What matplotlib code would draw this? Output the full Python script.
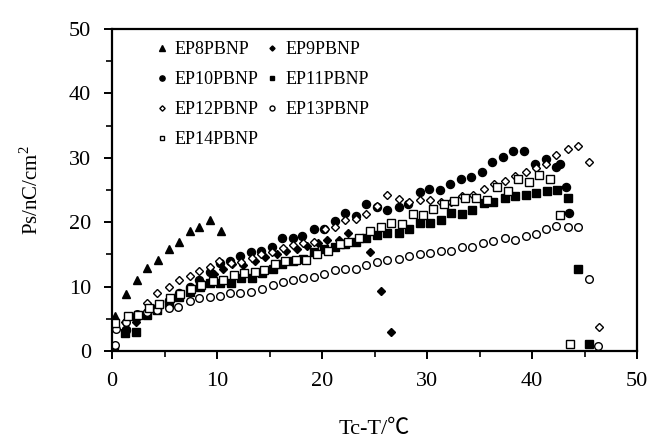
import matplotlib
matplotlib.use("Agg")
import matplotlib.pyplot as plt
from matplotlib.ticker import MultipleLocator

# ---- data ----
ep8_x = [0.3, 1.3, 2.35, 3.3, 4.35, 5.4, 6.4, 7.4, 8.3, 9.3, 10.35]
ep8_y = [5.5, 8.8, 11.1, 12.9, 14.2, 15.8, 17.0, 18.6, 19.2, 20.4, 18.7]

ep9_x = [0.2, 1.3, 2.3, 3.3, 4.3, 5.4, 6.4, 7.4, 8.4, 9.7, 10.6, 11.4, 12.5, 13.6, 14.6,
         15.7, 16.6, 17.6, 18.6, 19.6, 20.5, 21.6, 22.5, 24.6, 25.6, 26.6]
ep9_y = [0.1, 3.5, 4.5, 5.8, 7.0, 8.0, 9.0, 10.0, 10.8, 11.9, 12.8, 13.5, 13.3, 14.0, 14.6,
         15.0, 15.5, 15.8, 16.3, 16.8, 17.2, 17.3, 18.3, 15.4, 9.3, 2.9]

ep10_x = [0.2, 1.3, 2.3, 3.3, 4.3, 5.4, 6.4, 7.4, 8.3, 9.3, 10.3, 11.2, 12.2, 13.2, 14.2,
          15.2, 16.2, 17.2, 18.1, 19.2, 20.2, 21.2, 22.2, 23.2, 24.2, 25.2, 26.2, 27.3,
          28.2, 29.3, 30.2, 31.2, 32.2, 33.2, 34.2, 35.2, 36.2, 37.2, 38.2, 39.2, 40.3,
          41.3, 42.3, 42.7, 43.2, 43.5]
ep10_y = [0.4, 3.2, 5.2, 5.9, 6.5, 7.7, 9.0, 10.0, 11.0, 12.3, 13.6, 13.95, 14.7, 15.4, 15.6,
          16.2, 17.5, 17.6, 17.9, 19.0, 19.0, 20.2, 21.4, 21.0, 22.8, 22.4, 21.9, 22.3,
          22.8, 24.7, 25.1, 25.0, 25.9, 26.7, 27.0, 27.8, 29.3, 30.2, 31.0, 31.0, 29.0,
          29.8, 28.6, 29.0, 25.4, 21.4]

ep11_x = [0.13, 1.25, 2.3, 3.3, 4.3, 5.4, 6.4, 7.4, 8.4, 9.3, 10.3, 11.3, 12.3, 13.3, 14.3,
          15.3, 16.2, 17.2, 18.2, 19.2, 20.2, 21.2, 22.2, 23.2, 24.2, 25.2, 26.2, 27.3,
          28.3, 29.3, 30.3, 31.3, 32.3, 33.3, 34.3, 35.4, 36.3, 37.4, 38.4, 39.4, 40.4,
          41.4, 42.4, 43.4, 44.4, 45.4]
ep11_y = [0.2, 2.85, 3.0, 5.6, 6.4, 7.4, 8.4, 9.2, 9.9, 10.5, 10.6, 10.5, 11.3, 11.3, 12.1,
          12.8, 13.5, 13.9, 14.3, 15.4, 15.8, 16.2, 16.6, 17.0, 17.6, 18.0, 18.4, 18.4,
          19.0, 19.8, 19.9, 20.3, 21.4, 21.3, 21.9, 23.0, 23.2, 23.8, 24.0, 24.2, 24.5,
          24.8, 25.0, 23.7, 12.7, 1.1]

ep12_x = [0.3, 1.25, 2.35, 3.3, 4.3, 5.4, 6.4, 7.4, 8.3, 9.3, 10.2, 11.3, 12.3, 13.3, 14.2,
          15.2, 16.3, 17.2, 18.2, 19.2, 20.3, 21.2, 22.2, 23.2, 24.2, 25.2, 26.2, 27.3,
          28.3, 29.3, 30.3, 31.3, 32.3, 33.3, 34.4, 35.4, 36.4, 37.4, 38.4, 39.4, 40.4,
          41.3, 42.3, 43.4, 44.4, 45.4, 46.4]
ep12_y = [3.8, 4.45, 5.5, 7.4, 9.0, 10.0, 11.1, 11.7, 12.4, 13.0, 13.9, 13.6, 13.8, 14.5, 15.0,
          15.4, 16.0, 16.4, 16.8, 16.9, 18.9, 19.2, 20.4, 20.5, 21.3, 22.5, 24.3, 23.6,
          23.2, 23.5, 23.5, 23.2, 23.2, 24.0, 24.2, 25.1, 26.0, 26.4, 27.2, 27.8, 28.4,
          29.1, 30.4, 31.4, 31.9, 29.3, 3.8]

ep13_x = [0.3, 0.4, 1.3, 2.35, 3.3, 4.3, 5.4, 6.3, 7.4, 8.3, 9.3, 10.3, 11.2, 12.2, 13.2,
          14.3, 15.3, 16.3, 17.2, 18.2, 19.2, 20.2, 21.2, 22.2, 23.2, 24.2, 25.2, 26.2,
          27.3, 28.3, 29.3, 30.3, 31.3, 32.3, 33.3, 34.3, 35.3, 36.3, 37.4, 38.4, 39.4,
          40.4, 41.3, 42.3, 43.4, 44.4, 45.4, 46.3]
ep13_y = [1.0, 3.4, 4.5, 5.8, 6.1, 6.4, 6.6, 6.9, 7.8, 8.3, 8.4, 8.6, 8.95, 8.95, 9.1,
          9.7, 10.3, 10.7, 11.0, 11.3, 11.5, 11.9, 12.6, 12.7, 12.7, 13.35, 13.8, 14.2,
          14.3, 14.7, 15.1, 15.2, 15.5, 15.5, 16.2, 16.2, 16.8, 17.1, 17.5, 17.3, 17.8,
          18.1, 18.9, 19.4, 19.2, 19.2, 11.2, 0.7]

ep14_x = [0.3, 1.5, 2.5, 3.5, 4.5, 5.5, 6.5, 7.5, 8.5, 9.6, 10.6, 11.6, 12.6, 13.6, 14.5,
          15.5, 16.5, 17.5, 18.5, 19.5, 20.6, 21.7, 22.5, 23.5, 24.6, 25.6, 26.6, 27.6,
          28.7, 29.6, 30.6, 31.6, 32.6, 33.6, 34.7, 35.7, 36.7, 37.7, 38.7, 39.7, 40.7,
          41.7, 42.7, 43.6]
ep14_y = [4.3, 5.5, 5.6, 6.6, 7.3, 8.2, 8.8, 9.6, 10.3, 10.9, 11.1, 11.8, 12.1, 12.3, 12.6,
          13.5, 14.0, 14.2, 14.2, 15.0, 15.6, 16.6, 17.0, 17.6, 18.6, 19.3, 19.9, 19.7,
          21.2, 21.1, 22.0, 22.9, 23.3, 23.7, 23.8, 23.4, 25.5, 24.9, 26.7, 26.3, 27.3,
          26.7, 21.1, 1.1]

labels = ["EP8PBNP", "EP9PBNP", "EP10PBNP", "EP11PBNP", "EP12PBNP", "EP13PBNP", "EP14PBNP"]
x_ticks = [0, 10, 20, 30, 40, 50]
y_ticks = [0, 10, 20, 30, 40, 50]

# ---- style ----
serif = ["Liberation Serif", "DejaVu Serif"]
plt.rcParams["font.family"] = serif
plt.rcParams["mathtext.fontset"] = "custom"
plt.rcParams["mathtext.rm"] = "Liberation Serif"

fig = plt.figure(figsize=(6.48, 4.4), dpi=100)
ax = fig.add_axes([112 / 648, 1 - 351 / 440, 525 / 648, 322 / 440])

series = [
    (ep8_x, ep8_y, dict(marker="^", mfc="black", mec="black", ms=6.0)),
    (ep9_x, ep9_y, dict(marker="D", mfc="black", mec="black", ms=4.0)),
    (ep10_x, ep10_y, dict(marker="o", mfc="black", mec="black", ms=5.8)),
    (ep11_x, ep11_y, dict(marker="s", mfc="black", mec="black", ms=5.2)),
    (ep12_x, ep12_y, dict(marker="D", mfc="white", mec="black", ms=4.2, mew=1.0)),
    (ep13_x, ep13_y, dict(marker="o", mfc="white", mec="black", ms=5.5, mew=1.0)),
    (ep14_x, ep14_y, dict(marker="s", mfc="white", mec="black", ms=5.5, mew=1.0)),
]
handles = []
for (xs, ys, st), lab in zip(series, labels):
    h, = ax.plot(xs, ys, linestyle="none", label=lab, **st)
    handles.append(h)

ax.set_xlim(0, 50)
ax.set_ylim(0, 50)
ax.set_xticks(x_ticks)
ax.set_yticks(y_ticks)
ax.xaxis.set_minor_locator(MultipleLocator(5))
ax.yaxis.set_minor_locator(MultipleLocator(5))
ax.tick_params(which="major", direction="out", length=6, width=1.4, labelsize=16, pad=9)
ax.tick_params(which="minor", direction="out", length=4, width=1.2)
for sp in ax.spines.values():
    sp.set_linewidth(1.6)

ax.set_xlabel("Tc-T/\u2103", fontsize=16, family=["Liberation Serif", "Noto Sans CJK SC"], labelpad=21)
ax.set_ylabel("Ps/nC/cm$^2$", fontsize=15, labelpad=19)

order = [0, 2, 4, 6, 1, 3, 5]
leg = ax.legend([handles[i] for i in order], [labels[i] for i in order], ncol=2,
                loc="upper left", bbox_to_anchor=(0.082, 0.963), frameon=False,
                fontsize=13, markerscale=0.65, handlelength=0.8, handletextpad=0.3,
                columnspacing=0.35, labelspacing=0.72, borderpad=0, borderaxespad=0)

fig.savefig("out.png", dpi=100)
